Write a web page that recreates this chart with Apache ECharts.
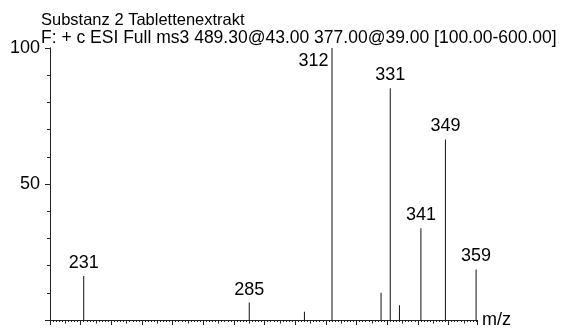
<!DOCTYPE html>
<html>
<head>
<meta charset="utf-8">
<script src="https://cdn.jsdelivr.net/npm/echarts@6/dist/echarts.min.js"></script>
<style>html,body{margin:0;padding:0;background:#fff}#c{width:574px;height:330px}</style>
</head>
<body>
<div id="c"></div>
<script>
var titleLines = ["Substanz 2 Tablettenextrakt", "F: + c ESI Full ms3 489.30@43.00 377.00@39.00 [100.00-600.00]"];
var mz = [231, 285, 303, 312, 328, 331, 334, 341, 349, 359];
var intensity = [16.2, 6.4, 3.0, 100, 10.0, 85.2, 5.4, 33.7, 66.4, 18.6];
var labelledPeaks = [231, 285, 312, 331, 341, 349, 359];
var yTickLabels = [50, 100];
var xName = "m/z";

var FONT = "'Liberation Sans', Arial, sans-serif";
var chart = echarts.init(document.getElementById('c'));

var data = mz.map(function (m, i) {
  var d = { value: [m, intensity[i]] };
  if (labelledPeaks.indexOf(m) >= 0) {
    if (intensity[i] >= 99) {
      d.label = { show: true, position: [-3, 4], align: 'right', verticalAlign: 'top' };
    } else {
      d.label = { show: true, position: 'top', distance: 4 };
    }
  } else {
    d.label = { show: false };
  }
  return d;
});

var grid = { left: 50, right: 97, top: 48, bottom: 10, containLabel: false };
function xAx(interval, len, showLine, name) {
  return {
    type: 'value', min: 220, max: 359.3, interval: interval, position: 'bottom',
    name: name || '', nameLocation: 'end', nameGap: 5,
    nameTextStyle: { color: '#000', fontSize: 18, fontFamily: FONT },
    axisLine: { show: showLine, lineStyle: { color: '#222', width: 1 } },
    axisTick: { show: true, length: len, inside: false, lineStyle: { color: '#222', width: 1 } },
    axisLabel: { show: false }, splitLine: { show: false }
  };
}
function yAx(interval, len, showLabels) {
  return {
    type: 'value', min: 0, max: 100, interval: interval, position: 'left',
    axisLine: { show: true, lineStyle: { color: '#222', width: 1 } },
    axisTick: { show: true, length: len, lineStyle: { color: '#222', width: 1 } },
    axisLabel: {
      show: showLabels, color: '#000', fontSize: 18, fontFamily: FONT, margin: 10,
      formatter: function (v) { return yTickLabels.indexOf(v) >= 0 ? String(v) : ''; }
    },
    splitLine: { show: false }
  };
}

chart.setOption({
  animation: false,
  backgroundColor: '#fff',
  title: {
    text: '{a|' + titleLines[0] + '}\n{b|' + titleLines[1] + '}', left: 36, top: 6,
    textStyle: {
      color: '#000', fontWeight: 'normal', fontFamily: FONT,
      rich: {
        a: { color: '#000', fontSize: 16.5, fontFamily: FONT, lineHeight: 18 },
        b: { color: '#000', fontSize: 17.5, fontFamily: FONT, lineHeight: 18 }
      }
    }
  },
  grid: grid,
  xAxis: [xAx(10, 5, true, xName), xAx(5, 3.5, false), xAx(1, 2, false)],
  yAxis: [yAx(10, 3, false), yAx(50, 5, true)],
  series: [{
    type: 'bar', xAxisIndex: 0, yAxisIndex: 0, barWidth: 1,
    itemStyle: { color: '#111' },
    label: { color: '#000', fontSize: 18, fontFamily: FONT, formatter: function (p) { return String(p.value[0]); } },
    data: data
  }]
});
</script>
</body>
</html>
